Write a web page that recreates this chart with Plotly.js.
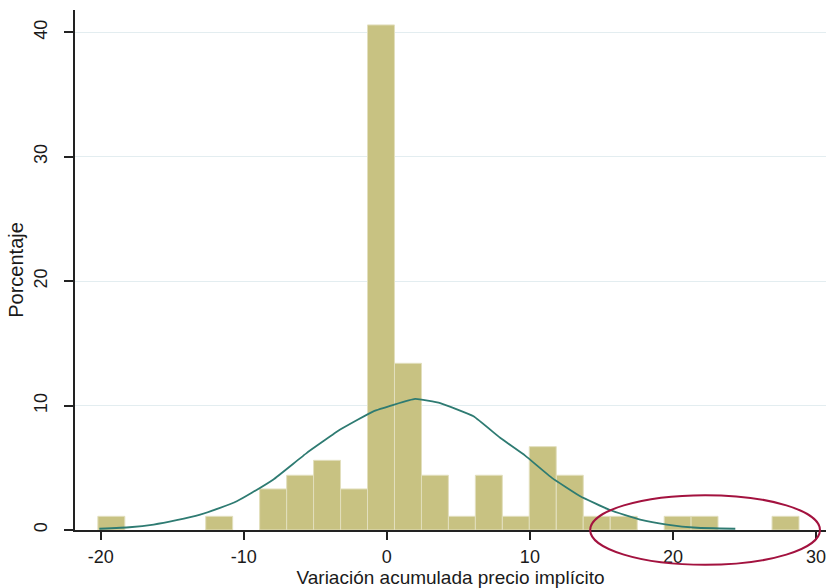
<!DOCTYPE html>
<html><head><meta charset="utf-8">
<script src="https://cdn.plot.ly/plotly-3.0.1.min.js"></script>
<style>html,body{margin:0;padding:0;background:#fff}</style>
</head><body><div id="chart" style="width:829px;height:588px"></div>
<script>
// Histogram bins (centers) and their percentages
const binCenters = [-19.26, -11.72, -7.95, -6.06, -4.18, -2.29, -0.41, 1.48, 3.36, 5.25, 7.13, 9.02, 10.90, 12.79, 14.67, 16.56, 20.33, 22.21, 27.87];
const binPercent = [1.1, 1.1, 3.3, 4.4, 5.6, 3.3, 40.6, 13.4, 4.4, 1.1, 4.4, 1.1, 6.7, 4.4, 1.1, 1.1, 1.1, 1.1, 1.1];
const binWidth = 1.885;

// Normal density overlay
const curveX = [-20.1, -18.0, -16.3, -14.7, -13.05, -11.66, -10.49, -9.44, -7.93, -5.59, -3.26, -0.94, 1.98, 3.73, 6.06, 7.92, 9.67, 11.54, 13.52, 15.62, 17.71, 19.58, 21.68, 24.36];
const curveY = [0.1, 0.22, 0.44, 0.79, 1.24, 1.78, 2.31, 2.99, 4.06, 6.2, 8.07, 9.54, 10.54, 10.2, 9.14, 7.41, 5.98, 4.19, 2.71, 1.59, 0.84, 0.44, 0.18, 0.1];

const xTicks = [-20, -10, 0, 10, 20, 30];
const yTicks = [0, 10, 20, 30, 40];

const font = 'Liberation Sans, Arial, sans-serif';

const traces = [
  {
    type: 'bar',
    x: binCenters,
    y: binPercent,
    width: binWidth,
    marker: {color: '#c8c282', line: {color: '#e2dfbd', width: 1}},
    hoverinfo: 'x+y'
  },
  {
    type: 'scatter',
    mode: 'lines',
    x: curveX,
    y: curveY,
    line: {color: '#2e7b72', width: 1.8, shape: 'spline', smoothing: 0.3}
  }
];

const layout = {
  width: 829, height: 588,
  margin: {l: 75, r: 3, t: 10, b: 58},
  paper_bgcolor: '#ffffff',
  plot_bgcolor: '#ffffff',
  showlegend: false,
  font: {family: font, color: '#1a1a1a', size: 18},
  xaxis: {
    range: [-21.8, 30.7],
    tickvals: xTicks,
    ticktext: xTicks.map(String),
    ticks: 'outside', ticklen: 8, tickwidth: 2, tickcolor: '#222',
    ticklabelstandoff: 1,
    showgrid: false, zeroline: false,
    showline: true, linecolor: '#222', linewidth: 2,
    tickfont: {family: font, size: 18, color: '#1a1a1a'},
    automargin: false,
    title: {text: 'Variación acumulada precio implícito', font: {family: font, size: 19, color: '#1a1a1a'}, standoff: 5}
  },
  yaxis: {
    range: [0, 41.8],
    tickvals: yTicks,
    ticktext: yTicks.map(String),
    tickangle: -90,
    ticks: 'outside', ticklen: 9, tickwidth: 2, tickcolor: '#222',
    ticklabelstandoff: 10,
    showgrid: true, gridcolor: '#e3edf0', gridwidth: 1,
    zeroline: false,
    showline: true, linecolor: '#222', linewidth: 2,
    tickfont: {family: font, size: 18, color: '#1a1a1a'},
    automargin: false,
    title: {text: 'Porcentaje', font: {family: font, size: 20, color: '#1a1a1a'}, standoff: 2}
  },
  shapes: [
    {type: 'circle', xref: 'paper', yref: 'paper',
     x0: 0.686, x1: 0.992, y0: -0.067, y1: 0.067,
     line: {color: '#a3123f', width: 2}, layer: 'above'}
  ]
};

Plotly.newPlot('chart', traces, layout, {displayModeBar: false, staticPlot: true});
</script>
</body></html>
